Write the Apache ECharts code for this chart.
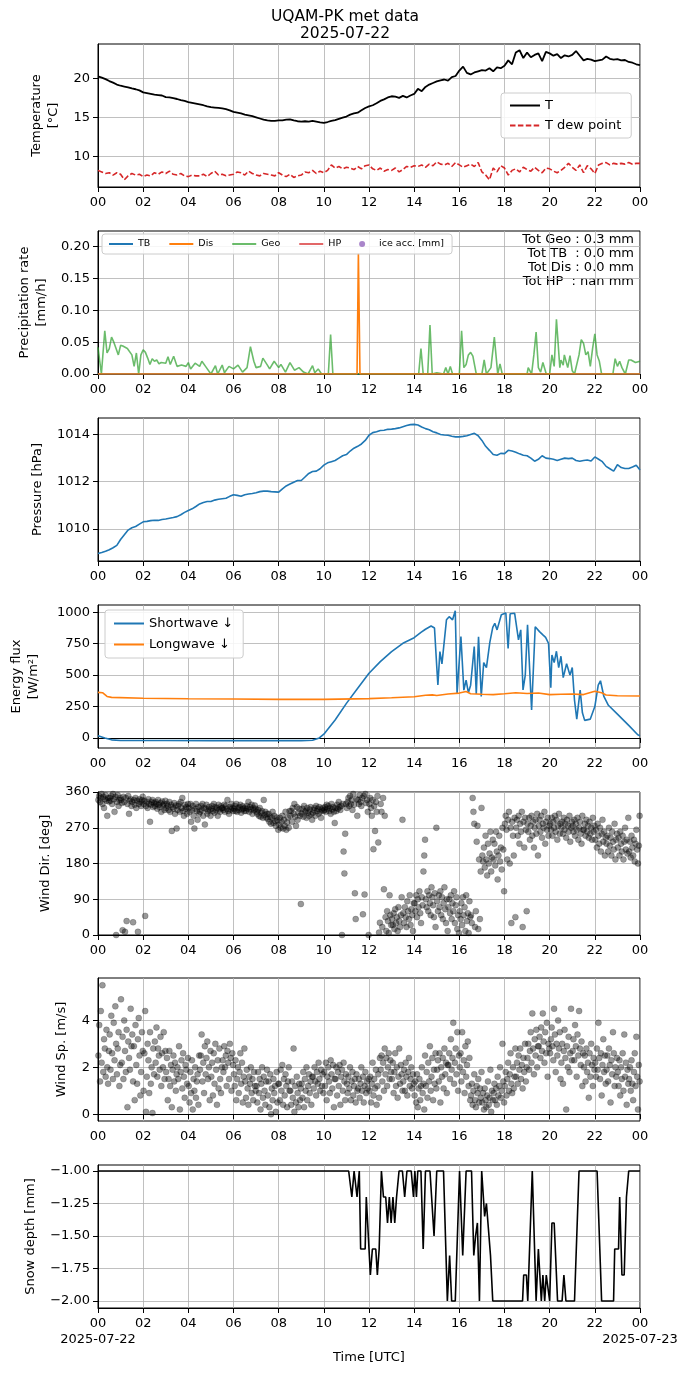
<!DOCTYPE html>
<html>
<head>
<meta charset="utf-8">
<script src="https://cdn.jsdelivr.net/npm/echarts@6/dist/echarts.min.js"></script>
<style>
  html, body { margin: 0; padding: 0; background: #fff; }
  #chart { width: 690px; height: 1377px; }
</style>
</head>
<body>
<div id="chart"></div>
<script>
// ---- data (hours since 2025-07-22 00 UTC) ----

// 10-minute samples, 00:00 .. 24:00
const tempT = [
  20.25, 20.1, 19.9, 19.65, 19.45, 19.2,
  19.05, 18.95, 18.85, 18.7, 18.6, 18.45,
  18.2, 18.1, 18.0, 17.9, 17.85, 17.8,
  17.6, 17.55, 17.45, 17.35, 17.2, 17.1,
  16.95, 16.85, 16.75, 16.65, 16.55, 16.4,
  16.3, 16.25, 16.2, 16.15, 16.05, 15.9,
  15.7, 15.6, 15.5, 15.35, 15.25, 15.15,
  15.0, 14.85, 14.7, 14.6, 14.55, 14.55,
  14.6, 14.6, 14.7, 14.75, 14.6, 14.5,
  14.45, 14.5, 14.45, 14.55, 14.45, 14.35,
  14.3, 14.4, 14.55, 14.65, 14.8, 14.95,
  15.1, 15.35, 15.5, 15.6, 15.9, 16.2,
  16.4, 16.55, 16.8, 17.1, 17.3, 17.55,
  17.7, 17.65, 17.5, 17.75, 17.55, 17.8,
  18.0, 18.65, 18.35, 18.9, 19.2, 19.4,
  19.6, 19.75, 19.85, 19.7, 20.15, 20.3,
  21.0, 21.5, 20.7, 20.5, 20.75, 20.9,
  21.05, 21.0, 21.3, 20.9, 21.4, 21.3,
  21.6, 22.3, 21.8, 23.3, 23.6, 22.6,
  23.3, 22.7, 23.0, 23.2, 22.2, 23.4,
  23.2, 22.9, 23.1, 22.6, 22.95, 22.8,
  23.0, 23.5, 22.9, 22.3, 22.5, 22.4,
  22.2, 22.3, 22.4, 22.8, 22.5, 22.4,
  22.45, 22.3, 22.35, 22.1, 22.0, 21.8,
  21.7
];
const tempDew = [
  8.2, 8.0, 7.8, 7.9, 7.6, 7.9,
  7.7, 7.0, 7.5, 7.8, 7.6, 7.7,
  7.4, 7.6, 7.5, 7.9, 7.7, 8.0,
  7.8, 8.1, 7.7, 7.6, 7.8, 7.5,
  7.4, 7.6, 7.5, 7.5, 7.7, 7.4,
  7.8, 8.1, 7.6, 7.7, 7.5, 7.6,
  7.7, 8.0, 7.9, 7.6, 8.1, 7.8,
  7.6, 7.5, 7.8, 7.7, 7.6, 7.5,
  7.9, 7.6, 7.4, 7.7, 7.3, 7.5,
  7.6, 8.0, 7.9, 8.2, 7.8, 8.1,
  7.9, 8.2, 8.9, 8.5, 8.7, 8.4,
  8.6, 8.5, 8.3, 8.7, 8.4, 8.8,
  8.9, 8.4, 8.2, 8.5, 8.1, 8.3,
  8.2, 8.5, 8.0, 8.3, 8.7, 8.6,
  8.8, 8.7, 8.9, 8.6, 9.0, 8.8,
  9.3, 9.0, 8.9, 9.1, 8.7, 9.2,
  8.9, 8.6, 8.8, 9.0, 8.7, 9.2,
  8.0, 7.6, 7.0, 8.5, 8.0, 8.8,
  8.5, 7.6, 8.2, 8.4, 8.0, 8.6,
  8.3, 8.1, 8.6, 8.2, 7.9, 8.5,
  8.4, 8.1, 7.9, 8.2, 8.6, 9.1,
  8.6, 8.2, 8.9, 7.9, 8.8, 8.4,
  7.8, 8.9, 9.1, 9.2, 8.9, 9.1,
  9.0, 9.1, 9.0, 9.2, 9.0, 9.1,
  9.1
];
const pressure = [
  1008.96, 1009.0, 1009.05, 1009.12, 1009.2, 1009.3,
  1009.55, 1009.75, 1009.95, 1010.05, 1010.1, 1010.2,
  1010.3, 1010.32, 1010.35, 1010.37, 1010.36, 1010.4,
  1010.42, 1010.45, 1010.48, 1010.52, 1010.6, 1010.7,
  1010.78, 1010.85, 1010.95, 1011.06, 1011.12, 1011.16,
  1011.16, 1011.22, 1011.26, 1011.28, 1011.3, 1011.38,
  1011.45, 1011.42, 1011.38, 1011.45, 1011.48, 1011.5,
  1011.53, 1011.58, 1011.6, 1011.6, 1011.58, 1011.57,
  1011.56, 1011.7, 1011.82, 1011.9, 1011.98, 1012.05,
  1012.05, 1012.2, 1012.35, 1012.43, 1012.45, 1012.55,
  1012.7, 1012.8, 1012.85, 1012.9, 1013.0, 1013.1,
  1013.15, 1013.3, 1013.42, 1013.5, 1013.6, 1013.75,
  1013.97, 1014.08, 1014.12, 1014.17, 1014.18, 1014.22,
  1014.23, 1014.25, 1014.28, 1014.33, 1014.38, 1014.42,
  1014.43, 1014.4, 1014.32, 1014.25, 1014.2, 1014.12,
  1014.07, 1014.0, 1013.98, 1013.97, 1013.93, 1013.9,
  1013.9, 1013.92, 1013.95, 1014.0, 1014.05, 1013.95,
  1013.75, 1013.5, 1013.33, 1013.15, 1013.12, 1013.2,
  1013.19, 1013.33, 1013.3, 1013.25, 1013.18, 1013.12,
  1013.1, 1013.0, 1012.87, 1012.95, 1013.1, 1013.0,
  1012.98, 1012.95, 1012.9, 1012.95, 1013.0, 1012.98,
  1013.0, 1012.9, 1012.87, 1012.9, 1012.92, 1012.88,
  1013.05, 1012.95, 1012.85, 1012.65, 1012.55, 1012.45,
  1012.72, 1012.6, 1012.56, 1012.56, 1012.62, 1012.7,
  1012.5
];

// precipitation rate [mm/h] as [hour, value]
const precipTB = [[0, 0], [24, 0]];
const precipDis = [[0, 0], [11.47, 0], [11.53, 0.19], [11.6, 0], [24, 0]];
const precipGeo = [
  [0, 0.042], [0.08, 0.044], [0.15, 0], [0.3, 0.068], [0.4, 0.033], [0.5, 0.04], [0.6, 0.058],
  [0.7, 0.05], [0.8, 0.04], [0.9, 0.03], [1.0, 0.045], [1.1, 0.044], [1.3, 0.04], [1.5, 0.03],
  [1.6, 0.012], [1.7, 0.033], [1.8, 0], [1.9, 0.03], [2.0, 0.038], [2.1, 0.034], [2.2, 0.025],
  [2.3, 0.015], [2.4, 0.024], [2.5, 0.02], [2.6, 0.022], [2.7, 0.016], [2.8, 0.018], [3.0, 0.017],
  [3.1, 0.027], [3.2, 0.015], [3.35, 0.028], [3.5, 0.012], [3.7, 0.014], [3.9, 0.012], [4.0, 0.018],
  [4.1, 0.008], [4.3, 0.017], [4.5, 0.012], [4.6, 0.02], [4.8, 0.01], [5.0, 0], [5.2, 0.013],
  [5.3, 0], [5.5, 0.014], [5.6, 0.002], [5.8, 0.012], [6.0, 0.008], [6.2, 0.014], [6.4, 0.003],
  [6.6, 0.01], [6.75, 0.043], [6.9, 0.02], [7.0, 0.01], [7.2, 0.012], [7.3, 0.025], [7.5, 0.014],
  [7.6, 0.008], [7.8, 0.02], [8.0, 0.01], [8.1, 0.015], [8.3, 0.003], [8.5, 0.018], [8.7, 0.006],
  [8.9, 0.01], [9.1, 0.003], [9.3, 0], [9.5, 0.013], [9.6, 0.002], [9.75, 0.008], [9.9, 0],
  [10.2, 0], [10.3, 0.062], [10.4, 0], [14.2, 0], [14.3, 0.04], [14.4, 0], [14.6, 0], [14.7, 0.077],
  [14.8, 0], [15.0, 0.002], [15.3, 0], [15.4, 0.01], [15.5, 0], [15.6, 0.012], [15.7, 0], [16.0, 0],
  [16.1, 0.068], [16.2, 0.01], [16.3, 0.015], [16.4, 0.03], [16.5, 0.034], [16.6, 0.028], [16.75, 0],
  [17.0, 0], [17.1, 0.022], [17.2, 0], [17.4, 0.01], [17.55, 0.058], [17.7, 0], [17.8, 0.016],
  [17.9, 0], [19.0, 0], [19.05, 0.01], [19.2, 0], [19.3, 0.03], [19.4, 0.066], [19.5, 0.01],
  [19.6, 0.003], [19.7, 0.018], [19.85, 0], [20.0, 0], [20.1, 0.03], [20.2, 0.012], [20.3, 0.086],
  [20.45, 0.01], [20.5, 0.022], [20.6, 0.014], [20.65, 0.03], [20.8, 0.01], [20.9, 0.029],
  [21.0, 0.005], [21.1, 0], [21.3, 0.03], [21.4, 0.054], [21.5, 0.048], [21.6, 0.03], [21.7, 0.035],
  [21.8, 0.012], [21.9, 0.04], [22.0, 0.063], [22.1, 0.03], [22.2, 0.02], [22.3, 0], [22.8, 0],
  [22.9, 0.024], [23.0, 0.012], [23.1, 0.02], [23.2, 0.01], [23.35, 0], [23.5, 0.022], [23.6, 0.022],
  [23.8, 0.018], [24, 0.02]
];
const precipTotals = ['Tot Geo : 0.3 mm', 'Tot TB  : 0.0 mm', 'Tot Dis : 0.0 mm', 'Tot HP  : nan mm'];

// radiation [W/m2] as [hour, value]
const shortwave = [
  [0, 18], [0.3, 0], [0.6, -15], [1, -20], [3, -20], [5, -21], [7, -21], [9, -21], [9.5, -18],
  [9.8, 0], [10, 30], [10.5, 143], [11, 275], [11.5, 395], [12, 515], [12.5, 607], [13, 687],
  [13.5, 753], [14, 798], [14.3, 840], [14.5, 865], [14.75, 891], [14.9, 875], [15.0, 568],
  [15.05, 422], [15.14, 687], [15.23, 589], [15.43, 940], [15.55, 965], [15.7, 940], [15.82, 1013],
  [15.9, 355], [16.07, 806], [16.2, 380], [16.3, 460], [16.4, 360], [16.5, 420], [16.66, 727],
  [16.75, 350], [16.85, 806], [16.97, 330], [17.08, 600], [17.2, 560], [17.35, 760], [17.48, 880],
  [17.57, 912], [17.67, 860], [17.86, 981], [18.06, 994], [18.16, 713], [18.25, 988], [18.45, 992],
  [18.62, 780], [18.72, 860], [18.82, 382], [18.92, 500], [19.02, 900], [19.2, 223], [19.36, 885],
  [19.55, 846], [19.7, 820], [19.82, 800], [19.95, 753], [20.05, 400], [20.1, 660], [20.2, 600],
  [20.3, 690], [20.4, 560], [20.5, 650], [20.6, 480], [20.75, 590], [20.9, 500], [21.0, 560],
  [21.1, 300], [21.2, 150], [21.35, 380], [21.45, 200], [21.55, 140], [21.8, 150], [22.0, 250],
  [22.15, 420], [22.25, 455], [22.4, 330], [22.6, 260], [23.0, 190], [23.5, 100], [23.9, 25], [24, 18]
];
const longwave = [
  [0, 363], [0.2, 360], [0.4, 330], [0.6, 323], [2, 316], [4, 312], [6, 310], [8, 307], [10, 307],
  [12, 313], [13, 320], [14, 328], [14.5, 340], [14.8, 343], [15, 338], [15.5, 350], [16, 357],
  [16.3, 369], [16.5, 352], [17, 348], [17.5, 345], [18, 352], [18.5, 360], [19, 354], [19.5, 358],
  [20, 345], [20.5, 348], [21, 350], [21.5, 345], [22, 372], [22.3, 360], [22.5, 342], [23, 336], [24, 334]
];

// wind direction [deg], one list per half hour
const windDir = [
  [340, 350, 335, 345, 355, 330, 348, 320, 342, 352, 338, 300, 345, 336],
  [345, 338, 350, 330, 355, 342, 310, 348, 0, 335, 352, 325, 340, 345],
  [340, 332, 12, 348, 335, 8, 345, 35, 330, 350, 305, 338, 342, 325],
  [335, 32, 340, 328, 345, 320, 338, 8, 330, 342, 335, 325, 340, 348],
  [330, 338, 48, 325, 335, 320, 342, 330, 285, 328, 335, 340, 322, 332],
  [325, 335, 330, 318, 340, 328, 322, 332, 310, 336, 326, 330, 315, 338],
  [320, 330, 325, 315, 335, 310, 328, 262, 322, 318, 332, 305, 326, 268],
  [315, 325, 330, 310, 335, 320, 345, 312, 300, 328, 318, 322, 305, 330],
  [320, 310, 330, 285, 315, 325, 300, 268, 318, 330, 312, 290, 322, 305],
  [310, 325, 315, 330, 300, 320, 278, 318, 328, 305, 312, 322, 315, 300],
  [318, 325, 312, 330, 308, 322, 315, 320, 300, 328, 316, 310, 324, 319],
  [320, 315, 328, 310, 325, 318, 340, 312, 305, 322, 316, 330, 320, 312],
  [318, 325, 312, 330, 310, 320, 315, 322, 328, 308, 316, 324, 318, 312],
  [320, 312, 325, 318, 335, 310, 322, 316, 328, 305, 320, 314, 326, 318],
  [310, 305, 315, 300, 320, 298, 308, 312, 295, 340, 302, 310, 296, 305],
  [292, 305, 285, 298, 280, 295, 310, 282, 300, 287, 275, 296, 289, 265],
  [278, 295, 270, 285, 300, 268, 290, 275, 310, 265, 283, 296, 270, 312],
  [300, 312, 285, 320, 305, 330, 298, 275, 322, 290, 308, 318, 300, 78],
  [305, 318, 298, 325, 310, 312, 295, 320, 308, 300, 316, 322, 304, 290],
  [308, 315, 320, 300, 325, 312, 318, 305, 322, 310, 295, 316, 320, 312],
  [315, 322, 310, 328, 318, 325, 312, 320, 305, 330, 316, 322, 310, 282],
  [320, 312, 328, 318, 335, 322, 315, 325, 0, 330, 210, 155, 255, 330],
  [320, 335, 345, 325, 350, 330, 340, 315, 355, 328, 105, 40, 342, 300],
  [340, 330, 352, 335, 325, 345, 52, 350, 102, 355, 332, 340, 310, 0],
  [330, 345, 320, 300, 340, 216, 325, 262, 335, 310, 350, 233, 6, 31],
  [330, 310, 20, 345, 115, 300, 45, 10, 60, 35, 5, 100, 50, 25],
  [40, 25, 55, 15, 65, 30, 45, 10, 70, 35, 20, 50, 95, 290],
  [55, 30, 70, 45, 20, 85, 60, 40, 100, 25, 65, 50, 10, 80],
  [80, 60, 100, 45, 90, 70, 110, 55, 30, 95, 75, 160, 200, 240],
  [90, 70, 110, 60, 100, 80, 50, 120, 95, 75, 45, 105, 20, 270],
  [85, 60, 100, 70, 110, 50, 95, 40, 80, 120, 65, 30, 90, 10],
  [70, 90, 55, 100, 40, 80, 60, 110, 30, 75, 95, 15, 50, 5],
  [60, 40, 80, 25, 95, 50, 70, 10, 100, 35, 55, 5, 85, 45],
  [50, 30, 345, 310, 280, 20, 60, 235, 275, 15, 190, 40, 160, 320],
  [200, 185, 220, 170, 250, 190, 150, 230, 180, 205, 260, 160, 195, 240],
  [190, 230, 175, 260, 210, 140, 200, 250, 185, 220, 165, 270, 215, 110],
  [280, 300, 265, 190, 290, 310, 180, 270, 30, 285, 250, 200, 295, 45],
  [270, 290, 250, 300, 230, 280, 260, 310, 20, 285, 220, 295, 265, 60],
  [280, 260, 295, 240, 275, 300, 250, 285, 220, 270, 290, 255, 305, 200],
  [275, 290, 260, 300, 245, 280, 270, 310, 230, 285, 265, 295, 250, 275],
  [280, 265, 295, 250, 285, 270, 300, 260, 290, 240, 275, 305, 255, 280],
  [270, 285, 255, 295, 265, 280, 245, 290, 275, 260, 300, 235, 270, 285],
  [275, 260, 290, 250, 280, 265, 295, 240, 270, 285, 255, 230, 300, 265],
  [265, 280, 250, 290, 260, 275, 245, 285, 255, 270, 240, 295, 260, 275],
  [240, 265, 220, 280, 250, 230, 270, 210, 255, 290, 235, 260, 200, 245],
  [230, 250, 210, 270, 225, 245, 200, 260, 235, 215, 280, 190, 240, 255],
  [220, 245, 200, 260, 230, 210, 250, 190, 235, 270, 215, 240, 205, 295],
  [210, 235, 195, 250, 220, 200, 240, 185, 230, 265, 215, 180, 225, 300]
];

// wind speed [m/s], one list per half hour
const windSpeed = [
  [2.5, 3.8, 1.4, 4.4, 2.2, 5.5, 1.8, 3.2, 2.8, 1.6, 3.6, 2.0, 1.3, 2.7],
  [3.4, 1.9, 4.2, 2.6, 1.5, 3.9, 2.3, 4.6, 3.0, 1.7, 2.8, 3.5, 1.2, 2.1],
  [4.9, 2.2, 3.3, 1.5, 4.0, 2.7, 1.8, 3.6, 0.3, 3.1, 2.4, 1.9, 4.5, 2.9],
  [3.4, 1.4, 2.9, 0.6, 3.8, 2.1, 1.3, 3.2, 4.1, 2.5, 0.8, 1.8, 3.5, 2.7],
  [1.0, 2.6, 4.4, 0.1, 1.6, 3.0, 2.3, 0.9, 3.5, 1.3, 2.0, 0.05, 2.8, 1.7],
  [3.1, 2.2, 3.7, 1.6, 2.8, 2.5, 1.9, 3.3, 1.2, 2.6, 2.0, 3.5, 1.5, 2.7],
  [1.8, 2.4, 0.6, 1.5, 2.7, 1.2, 2.1, 0.3, 1.9, 2.5, 1.4, 2.2, 1.0, 1.7],
  [2.0, 1.5, 2.9, 0.2, 1.8, 2.3, 1.1, 2.6, 1.6, 0.7, 2.1, 1.9, 1.3, 2.4],
  [1.2, 0.5, 1.8, 0.9, 2.3, 0.2, 1.5, 1.0, 2.0, 0.7, 1.4, 1.7, 0.4, 2.5],
  [1.9, 2.5, 3.4, 1.4, 2.2, 0.9, 2.9, 1.7, 2.4, 3.1, 1.5, 2.0, 0.6, 2.7],
  [1.6, 2.2, 0.8, 2.6, 1.3, 3.0, 1.9, 0.4, 2.3, 1.1, 2.8, 1.5, 0.9, 2.0],
  [2.3, 1.8, 2.9, 2.0, 2.5, 1.2, 2.7, 2.2, 1.5, 3.0, 2.4, 1.0, 2.6, 2.1],
  [1.7, 1.2, 2.3, 0.6, 1.5, 2.0, 0.9, 1.8, 2.6, 1.3, 2.2, 0.5, 1.6, 2.8],
  [1.4, 0.7, 1.9, 1.1, 0.4, 1.6, 1.3, 2.0, 0.9, 1.5, 0.6, 1.8, 1.2, 1.0],
  [1.2, 0.5, 1.8, 0.9, 1.5, 0.2, 1.3, 2.0, 0.7, 1.6, 1.0, 0.4, 1.4, 1.9],
  [0.8, 1.4, 0.3, 1.7, 0.0, 1.1, 0.6, 1.5, 0.9, 1.2, 0.1, 1.8, 0.5, 1.3],
  [1.3, 0.6, 1.9, 1.0, 2.1, 0.4, 1.5, 0.8, 1.7, 1.2, 0.3, 1.4, 2.0, 1.0],
  [1.0, 0.4, 1.4, 0.7, 2.8, 0.1, 1.2, 0.5, 1.6, 0.9, 0.3, 1.3, 0.6, 1.1],
  [1.3, 0.7, 1.8, 0.3, 1.5, 1.0, 2.0, 0.6, 1.2, 1.7, 0.9, 1.4, 0.4, 1.6],
  [1.6, 1.1, 2.0, 1.4, 0.8, 1.8, 1.3, 2.2, 1.5, 1.0, 1.9, 1.2, 1.7, 0.9],
  [1.8, 1.2, 2.2, 0.6, 1.6, 2.0, 1.4, 0.9, 2.3, 1.7, 1.1, 2.1, 0.3, 1.5],
  [1.5, 2.0, 0.8, 1.8, 1.2, 2.1, 0.4, 1.6, 1.9, 1.0, 2.2, 1.4, 0.6, 1.7],
  [1.3, 0.9, 1.6, 1.1, 2.0, 0.6, 1.4, 1.8, 0.8, 1.2, 1.5, 0.5, 1.7, 1.0],
  [1.1, 1.5, 0.7, 1.3, 2.0, 1.0, 1.6, 0.5, 1.2, 1.8, 0.9, 1.4, 1.1, 1.5],
  [1.0, 1.6, 0.5, 1.3, 2.2, 0.8, 1.5, 1.1, 1.9, 0.4, 1.2, 1.7, 0.7, 2.4],
  [1.9, 2.5, 1.4, 2.2, 1.0, 2.8, 1.7, 2.4, 1.2, 2.0, 2.6, 1.5, 2.3, 1.8],
  [1.5, 2.2, 0.9, 1.8, 2.6, 1.2, 2.0, 0.7, 1.6, 2.8, 1.3, 2.1, 1.7, 1.0],
  [1.4, 1.9, 1.0, 2.2, 1.6, 0.8, 1.8, 2.4, 1.2, 1.5, 2.0, 1.1, 1.7, 1.3],
  [0.8, 1.4, 0.5, 1.7, 0.3, 1.1, 1.5, 0.6, 1.2, 2.0, 0.9, 1.3, 0.2, 2.5],
  [1.2, 1.8, 0.7, 2.2, 1.4, 2.9, 1.0, 1.6, 2.4, 0.6, 1.9, 1.3, 2.6, 1.1],
  [1.9, 2.3, 1.4, 2.6, 0.5, 2.0, 1.6, 2.4, 1.1, 2.8, 1.7, 2.2, 0.9, 2.1],
  [2.1, 2.6, 1.5, 3.2, 1.9, 2.4, 3.9, 1.3, 2.2, 2.8, 1.7, 3.5, 1.0, 2.5],
  [2.0, 2.6, 1.4, 3.5, 1.8, 2.3, 0.9, 2.9, 1.6, 2.1, 3.1, 1.2, 2.4, 0.6],
  [0.8, 1.3, 0.4, 1.0, 1.7, 0.6, 0.3, 1.2, 0.9, 1.5, 0.5, 1.1, 0.7, 1.8],
  [0.5, 0.9, 0.2, 1.1, 0.6, 0.3, 0.8, 1.4, 0.4, 0.7, 1.9, 0.1, 1.0, 0.6],
  [0.9, 1.3, 0.6, 1.1, 0.4, 1.6, 0.8, 1.2, 2.0, 0.7, 1.0, 3.0, 1.4, 0.5],
  [1.2, 1.8, 0.8, 1.5, 2.2, 1.0, 1.7, 2.6, 1.3, 0.9, 2.0, 1.1, 1.6, 2.8],
  [1.6, 2.2, 1.3, 2.5, 1.9, 2.8, 1.5, 2.1, 1.1, 2.4, 1.8, 3.0, 1.4, 2.0],
  [2.4, 3.0, 1.9, 2.7, 3.5, 2.2, 4.3, 2.8, 1.7, 3.2, 2.5, 3.6, 2.0, 2.9],
  [2.9, 3.3, 2.4, 3.7, 2.7, 4.3, 3.1, 2.2, 3.5, 2.6, 3.9, 1.6, 3.0, 2.8],
  [2.6, 3.2, 3.7, 2.9, 2.3, 4.5, 3.4, 1.8, 3.0, 2.5, 4.0, 2.8, 3.5, 1.5],
  [2.2, 3.0, 1.3, 2.7, 3.6, 2.4, 0.2, 2.9, 2.0, 3.3, 1.8, 2.6, 4.5, 2.3],
  [2.7, 3.2, 2.3, 3.8, 2.9, 1.6, 3.4, 2.5, 4.4, 2.8, 2.1, 3.1, 1.2, 2.6],
  [2.0, 2.5, 1.4, 2.8, 1.8, 2.2, 0.7, 2.6, 1.6, 3.0, 2.1, 1.2, 2.4, 1.9],
  [2.2, 1.6, 2.8, 1.9, 3.9, 2.4, 1.5, 2.6, 0.8, 2.1, 3.2, 1.8, 2.5, 1.3],
  [1.9, 2.5, 1.4, 2.8, 2.1, 0.5, 2.3, 1.7, 3.5, 2.6, 1.2, 2.0, 1.6, 2.4],
  [1.8, 1.2, 2.3, 0.8, 2.0, 1.5, 2.6, 1.0, 3.4, 1.6, 2.2, 0.4, 1.9, 1.3],
  [1.5, 2.0, 1.0, 2.3, 1.3, 0.6, 1.8, 2.6, 1.2, 3.3, 1.6, 0.2, 2.1, 1.4]
];

// snow depth [mm] as [hour, value]
const snowDepth = [
  [0, -1], [11.1, -1], [11.24, -1.2], [11.34, -1], [11.47, -1.2], [11.57, -1], [11.63, -1.6],
  [11.83, -1.6], [11.88, -1.2], [12.06, -1.8], [12.15, -1.6], [12.3, -1.6], [12.37, -1.8],
  [12.45, -1.6], [12.55, -1], [12.64, -1.2], [12.74, -1.2], [12.82, -1.4], [12.9, -1.2],
  [12.98, -1.4], [13.06, -1.2], [13.14, -1.4], [13.22, -1.2], [13.33, -1], [13.48, -1],
  [13.58, -1.2], [13.68, -1], [13.87, -1], [13.97, -1.2], [14.03, -1], [14.1, -1.2], [14.16, -1],
  [14.3, -1], [14.4, -1.6], [14.5, -1], [14.7, -1], [14.88, -1.5], [15.0, -1], [15.3, -1],
  [15.47, -2], [15.57, -1.65], [15.66, -2], [15.82, -2], [16.01, -1], [16.15, -1.65], [16.3, -1],
  [16.54, -1], [16.64, -1.65], [16.72, -1.5], [16.8, -1.4], [16.89, -2], [16.99, -1], [17.05, -1],
  [17.12, -1.35], [17.2, -1.25], [17.38, -1.65], [17.48, -2], [18.8, -2], [18.85, -1.8],
  [18.97, -1.8], [19.03, -2], [19.23, -1], [19.4, -2], [19.5, -1.6], [19.63, -2], [19.7, -1.8],
  [19.78, -2], [19.85, -1.8], [19.93, -1.8], [20.0, -2], [20.1, -1.4], [20.2, -1.4], [20.35, -2],
  [20.55, -2], [20.63, -1.8], [20.72, -2], [21.1, -2], [21.3, -1], [22.1, -1], [22.3, -2],
  [22.83, -2], [22.88, -1.6], [23.05, -1.6], [23.1, -1.2], [23.2, -1.8], [23.3, -1.8],
  [23.4, -1.2], [23.5, -1], [24, -1]
];

// ---- helpers ----
const FONT = "DejaVu Sans";
const pad2 = (n) => String(n).padStart(2, "0");

function tenMinute(values) {
  return values.map((v, i) => [i / 6, v]);
}

function halfHourScatter(slots) {
  const pts = [];
  slots.forEach((vals, s) => {
    vals.forEach((v, i) => pts.push([s * 0.5 + ((i + 0.5) / vals.length) * 0.5, v]));
  });
  return pts;
}

// panel layout
const gridTops = [44, 231, 418, 605, 792, 978, 1165];
const panels = [
  { name: "Temperature\n[°C]", gap: 35, min: 6.07, max: 24.4, ticks: [10, 15, 20], fmt: (v) => String(v) },
  { name: "Precipitation rate\n[mm/h]", gap: 45, min: 0, max: 0.2247, ticks: [0, 0.05, 0.1, 0.15, 0.2], fmt: (v) => v.toFixed(2) },
  { name: "Pressure [hPa]", gap: 51, min: 1008.64, max: 1014.7, ticks: [1010, 1012, 1014], fmt: (v) => String(v) },
  { name: "Energy flux\n[W/m²]", gap: 56, min: -80, max: 1058, ticks: [0, 250, 500, 750, 1000], fmt: (v) => String(v) },
  { name: "Wind Dir. [deg]", gap: 43, min: 0, max: 360, ticks: [0, 90, 180, 270, 360], fmt: (v) => String(v) },
  { name: "Wind Sp. [m/s]", gap: 28, min: -0.29, max: 5.81, ticks: [0, 2, 4], fmt: (v) => String(v) },
  { name: "Snow depth [mm]", gap: 59, min: -2.054, max: -0.954, ticks: [-2, -1.75, -1.5, -1.25, -1], fmt: (v) => (v < 0 ? "\u2212" : "") + Math.abs(v).toFixed(2) }
];

const gridLine = { show: true, lineStyle: { color: "#b0b0b0", width: 0.8 } };
const blackLine = { show: true, lineStyle: { color: "#000", width: 1 } };
const tickStyle = { show: true, length: 5, lineStyle: { color: "#000", width: 1 } };

const grids = gridTops.map((top) => ({
  left: 98, width: 542, top, height: 143,
  show: true, borderColor: "#000", borderWidth: 1, backgroundColor: "transparent"
}));

const xAxes = gridTops.map((_, i) => ({
  type: "value", gridIndex: i, min: 0, max: 24, interval: 2,
  axisLine: blackLine, axisTick: tickStyle, splitLine: gridLine,
  axisLabel: {
    color: "#000", fontSize: 13, fontFamily: FONT, margin: 8, lineHeight: 16,
    showMinLabel: true, showMaxLabel: true, hideOverlap: false,
    formatter: (v) => pad2(v % 24)
  }
}));

// second bottom axis on the last panel: only the dates and the axis title
xAxes.push({
  type: "value", gridIndex: gridTops.length - 1, min: 0, max: 24, position: "bottom", offset: 0,
  axisLine: { show: false }, axisTick: { show: false }, splitLine: { show: false },
  axisLabel: {
    customValues: [0, 24], color: "#000", fontSize: 13, fontFamily: FONT, margin: 24, lineHeight: 16,
    formatter: (v) => (v === 0 ? "2025-07-22" : "2025-07-23")
  },
  name: "Time [UTC]", nameLocation: "middle", nameGap: 43,
  nameTextStyle: { color: "#000", fontSize: 13, fontFamily: FONT }
});

const yAxes = panels.map((p, i) => ({
  type: "value", gridIndex: i, min: p.min, max: p.max,
  axisLine: blackLine, splitLine: gridLine,
  axisTick: Object.assign({ customValues: p.ticks }, tickStyle),
  axisLabel: {
    customValues: p.ticks, color: "#000", fontSize: 13, fontFamily: FONT, margin: 8,
    formatter: p.fmt
  },
  name: p.name, nameLocation: "middle", nameGap: p.gap,
  nameTextStyle: { color: "#000", fontSize: 13, fontFamily: FONT, lineHeight: 17 }
}));

function lineSeries(name, idx, data, color, extra) {
  return Object.assign({
    name, type: "line", xAxisIndex: idx, yAxisIndex: idx, data,
    symbol: "none", animation: false,
    lineStyle: { color, width: 1.6 }, itemStyle: { color }
  }, extra || {});
}

function scatterSeries(name, idx, data) {
  return {
    name, type: "scatter", xAxisIndex: idx, yAxisIndex: idx, data,
    symbolSize: 6, animation: false,
    itemStyle: { color: "rgba(0,0,0,0.5)", borderColor: "rgba(0,0,0,0.5)", borderWidth: 0.5 }
  };
}

const series = [
  lineSeries("T", 0, tenMinute(tempT), "#000000", { lineStyle: { color: "#000", width: 1.8 } }),
  lineSeries("T dew point", 0, tenMinute(tempDew), "#d62728", { lineStyle: { color: "#d62728", width: 1.6, type: [5.5, 2.4] } }),
  lineSeries("TB", 1, precipTB, "#1f77b4"),
  lineSeries("Geo", 1, precipGeo, "#2ca02c", { lineStyle: { color: "#2ca02c", width: 1.6, opacity: 0.7 }, itemStyle: { color: "rgba(44,160,44,0.7)" } }),
  lineSeries("Dis", 1, precipDis, "#ff7f0e"),
  lineSeries("HP", 1, [], "#d62728", { lineStyle: { color: "#d62728", width: 1.6, opacity: 0.7 }, itemStyle: { color: "rgba(214,39,40,0.7)" } }),
  { name: "ice acc. [mm]", type: "scatter", xAxisIndex: 1, yAxisIndex: 1, data: [], symbolSize: 5, itemStyle: { color: "rgba(148,103,189,0.8)" } },
  lineSeries("Pressure", 2, tenMinute(pressure), "#1f77b4"),
  lineSeries("Shortwave ↓", 3, shortwave, "#1f77b4"),
  lineSeries("Longwave ↓", 3, longwave, "#ff7f0e"),
  scatterSeries("Wind Dir", 4, halfHourScatter(windDir)),
  scatterSeries("Wind Sp", 5, halfHourScatter(windSpeed)),
  lineSeries("Snow depth", 6, snowDepth, "#000000")
];

const legendBox = {
  backgroundColor: "rgba(255,255,255,0.85)", borderColor: "#cccccc", borderWidth: 1, borderRadius: 3,
  itemStyle: { opacity: 0 }
};

const option = {
  animation: false,
  textStyle: { fontFamily: FONT },
  title: {
    text: "UQAM-PK met data\n2025-07-22", left: "center", top: 3,
    textStyle: { fontSize: 15.5, fontWeight: "normal", color: "#000", fontFamily: FONT, lineHeight: 17 }
  },
  grid: grids,
  xAxis: xAxes,
  yAxis: yAxes,
  legend: [
    Object.assign({
      data: ["T", "T dew point"], left: 501, top: 93, orient: "vertical",
      itemWidth: 30, itemHeight: 10, itemGap: 7, padding: [6, 10, 6, 8],
      textStyle: { fontSize: 13, color: "#000", fontFamily: FONT }
    }, legendBox),
    Object.assign({
      data: ["TB", "Dis", "Geo", "HP", { name: "ice acc. [mm]", itemStyle: { opacity: 1 } }],
      left: 102, top: 234, orient: "horizontal",
      itemWidth: 24, itemHeight: 6, itemGap: 18, padding: [5, 8, 5, 6],
      textStyle: { fontSize: 9.5, color: "#000", fontFamily: FONT }
    }, legendBox),
    Object.assign({
      data: ["Shortwave ↓", "Longwave ↓"], left: 105, top: 610, orient: "vertical",
      itemWidth: 30, itemHeight: 10, itemGap: 8, padding: [7, 10, 7, 8],
      textStyle: { fontSize: 13, color: "#000", fontFamily: FONT }
    }, legendBox)
  ],
  graphic: [{
    type: "text", right: 56, top: 233,
    style: {
      text: precipTotals.join("\n"), textAlign: "right", fill: "#000",
      fontSize: 13, fontFamily: FONT, lineHeight: 14
    }
  }],
  series
};

const chart = echarts.init(document.getElementById("chart"), null, { renderer: "canvas" });
chart.setOption(option);
</script>
</body>
</html>
